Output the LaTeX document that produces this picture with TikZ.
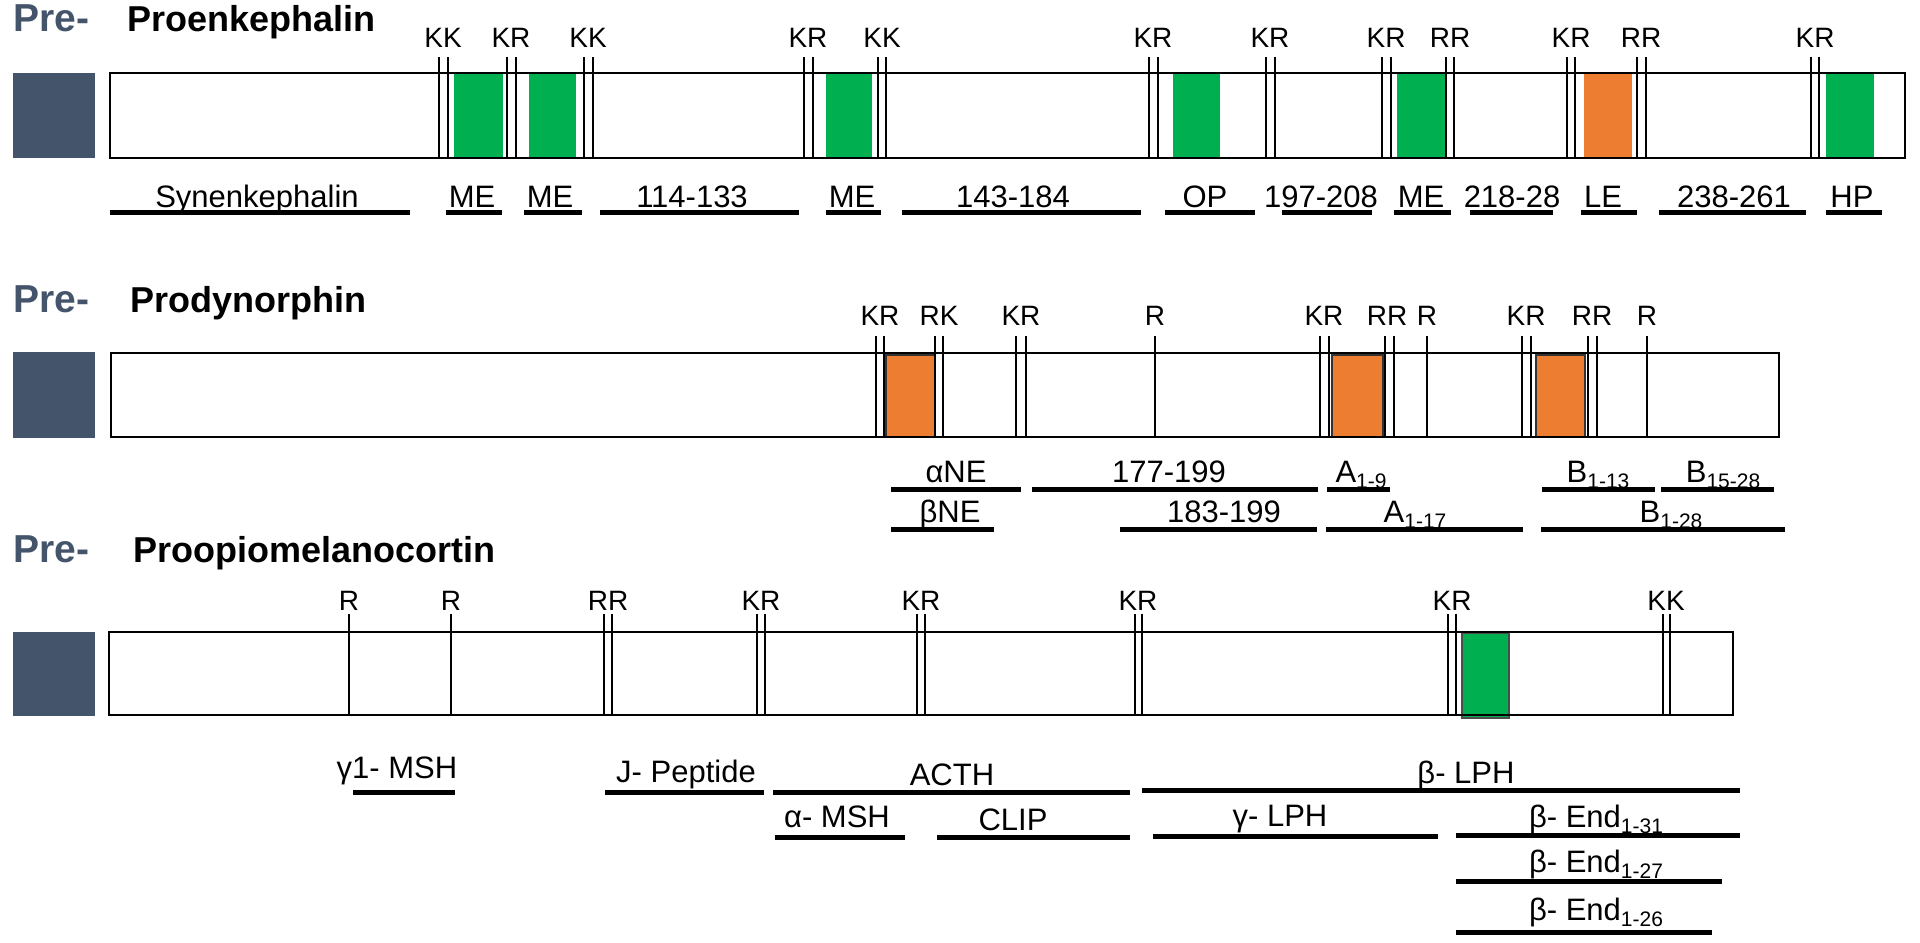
\documentclass[tikz,border=0pt]{standalone}
\usepackage{fontspec}
\setmainfont{Liberation Sans}
\usepackage{xcolor}
\definecolor{preslate}{HTML}{44546A}
\definecolor{mergreen}{HTML}{00B050}
\definecolor{leuorange}{HTML}{ED7D31}
\newcommand{\lo}[1]{\raisebox{-3pt}{\fontsize{10.5}{11}\selectfont #1}}

\begin{document}
\begin{tikzpicture}[x=0.5pt,y=-0.5pt,
  title/.style={anchor=base west,inner sep=0pt,font=\fontsize{18}{20}\selectfont\bfseries},
  pre/.style={title,text=preslate,font=\fontsize{19.5}{21}\selectfont\bfseries},
  site/.style={anchor=base,inner sep=0pt,font=\fontsize{14}{16}\selectfont},
  pep/.style={anchor=base,inner sep=0pt,font=\fontsize{15.5}{17}\selectfont},
  seg/.style={line width=2.5pt},
  cut/.style={line width=0.8pt}]
  \useasboundingbox (0,0) rectangle (1920,942);

  % Proenkephalin
  \node[pre] (pre1) at (13,32) {Pre-};
  \node[title] (penk) at (127,32) {Proenkephalin};
  \fill[preslate] (13,73) rectangle (95,158);
  \foreach \a/\b in {454/503,529/576,826/872,1173/1220,1397/1445,1826/1874}
    \fill[mergreen] (\a,73) rectangle (\b,158);
  \fill[leuorange] (1584,73) rectangle (1632,158);
  \foreach \x in {439,448,507,516,584,593,804,813,878,886,1149,1158,1266,1275,
                  1382,1391,1446,1454,1567,1575,1637,1646,1811,1819}
    \draw[cut] (\x,57) -- (\x,158);
  \draw[line width=1.3pt] (110,73) rectangle (1905,158);
  \foreach \x/\t [count=\i] in {443/KK,511/KR,588/KK,808/KR,882/KK,1153/KR,
                  1270/KR,1386/KR,1450/RR,1571/KR,1641/RR,1815/KR}
    \node[site] (ks\i) at (\x,47) {\t};
  \foreach \a/\b/\c/\t [count=\i] in {110/410/257/Synenkephalin,446/502/472/ME,
                  524/582/550/ME,600/799/692/114-133,826/881/852/ME,902/1141/1013/143-184,
                  1165/1255/1205/OP,1282/1372/1321/197-208,1394/1451/1421/ME,
                  1470/1553/1512/218-28,1581/1637/1603/LE,1659/1806/1734/238-261,
                  1826/1882/1852/HP}
    \draw[seg] (\a,212) -- (\b,212) node[pep] (ep\i) at (\c,207) {\t};

  % Prodynorphin
  \node[pre] (pre2) at (13,312) {Pre-};
  \node[title] (pdyn) at (130,312) {Prodynorphin};
  \fill[preslate] (13,352) rectangle (95,438);
  \foreach \a/\b in {886/935,1332/1383,1536/1585}
    \draw[fill=leuorange,draw=black!80,line width=0.6pt] (\a,355) rectangle (\b,437);
  \foreach \x in {876,884,935,943,1016,1026,1155,1320,1329,1385,1394,1427,
                  1522,1531,1588,1597,1647}
    \draw[cut] (\x,336) -- (\x,437);
  \draw[line width=0.75pt] (111,353) rectangle (1779,437);
  \foreach \x/\t [count=\i] in {880/KR,939/RK,1021/KR,1155/R,1324/KR,1387/RR,
                  1427/R,1526/KR,1592/RR,1647/R}
    \node[site] (ds\i) at (\x,325) {\t};
  \foreach \a/\b/\y/\c/\t [count=\i] in {891/1021/489/956/αNE,
                  1032/1318/489/1169/177-199,1327/1390/489/1361/A\lo{1-9},
                  1542/1655/489/1598/B\lo{1-13},1661/1774/489/1723/B\lo{15-28},
                  891/994/529/950/βNE,1120/1317/529/1224/183-199,
                  1326/1523/529/1415/A\lo{1-17},1541/1785/529/1671/B\lo{1-28}}
    \draw[seg] (\a,\y) -- (\b,\y) node[pep] (dp\i) at (\c,\y-7) {\t};

  % Proopiomelanocortin
  \node[pre] (pre3) at (13,562) {Pre-};
  \node[title] (pomc) at (133,562) {Proopiomelanocortin};
  \fill[preslate] (13,632) rectangle (95,716);
  \draw[fill=mergreen,draw=black!70,line width=0.6pt] (1462,633) rectangle (1509,718);
  \foreach \x in {349,451,604,612,757,765,917,925,1135,1142,1448,1456,1663,1670}
    \draw[cut] (\x,614) -- (\x,715);
  \draw[line width=0.75pt] (109,632) rectangle (1733,715);
  \foreach \x/\t [count=\i] in {349/R,451/R,608/RR,761/KR,921/KR,1138/KR,
                  1452/KR,1666/KK}
    \node[site] (ps\i) at (\x,610) {\t};
  \foreach \a/\b/\y/\c/\s/\t [count=\i] in {353/455/792/397/14/γ1- MSH,
                  605/764/792/686/10/J- Peptide,773/1130/792/952/7/ACTH,
                  1142/1740/790/1466/7/β- LPH,775/905/837/837/10/α- MSH,
                  937/1130/837/1013/7/CLIP,1153/1438/836/1280/10/γ- LPH,
                  1456/1740/835/1596/8/β- End\lo{1-31},1456/1722/881/1596/9/β- End\lo{1-27},
                  1456/1712/932/1596/12/β- End\lo{1-26}}
    \draw[seg] (\a,\y) -- (\b,\y) node[pep] (pp\i) at (\c,\y-\s) {\t};
\end{tikzpicture}
\end{document}
